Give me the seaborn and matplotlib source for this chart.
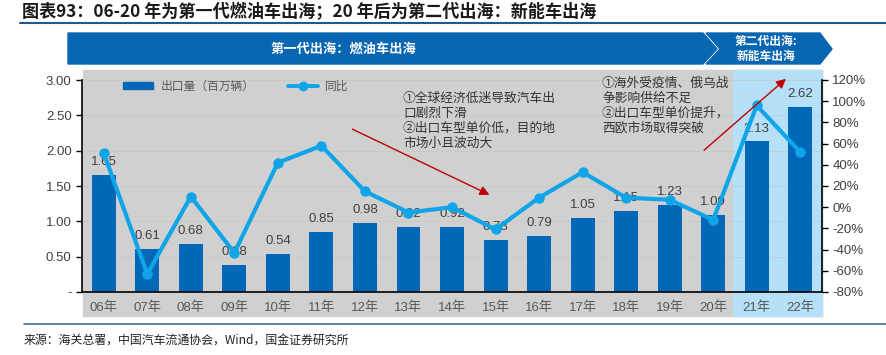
import numpy as np
import matplotlib.pyplot as plt
import seaborn as sns
from matplotlib.patches import Polygon, Rectangle, Patch
from matplotlib.lines import Line2D
from matplotlib.ticker import FuncFormatter, MultipleLocator

years = ['06年', '07年', '08年', '09年', '10年', '11年', '12年', '13年', '14年',
         '15年', '16年', '17年', '18年', '19年', '20年', '21年', '22年']
exports = [1.65, 0.61, 0.68, 0.38, 0.54, 0.85, 0.98, 0.92, 0.92,
           0.73, 0.79, 1.05, 1.15, 1.23, 1.09, 2.13, 2.62]
yoy = [51, -63, 10, -43, 42, 58, 15, -5, 0, -21, 9, 33, 9, 7, -12, 96, 52]

title = '图表93：06-20 年为第一代燃油车出海；20 年后为第二代出海：新能车出海'
banner1 = '第一代出海：燃油车出海'
banner2 = '第二代出海:\n新能车出海'
note1 = '①全球经济低迷导致汽车出\n口剧烈下滑\n②出口车型单价低，目的地\n市场小且波动大'
note2 = '①海外受疫情、俄乌战\n争影响供给不足\n②出口车型单价提升，\n西欧市场取得突破'
source = '来源：海关总署，中国汽车流通协会，Wind，国金证券研究所'
bar_name = '出口量（百万辆）'
line_name = '同比'

BAR = '#0068b7'
LINE = '#10a4e8'
GRAY_BG = '#d0d0d0'
BLUE_BG = '#b5e0f7'
BANNER = '#0866b3'
CJK = ['Noto Sans CJK SC', 'DejaVu Sans']
NUM = ['Liberation Sans', 'Noto Sans CJK SC']

sns.set_theme(style='white')
plt.rcParams['font.family'] = NUM

W, H = 886, 355
fig = plt.figure(figsize=(W / 100, H / 100), dpi=100)


def fx(px):
    return px / W


def fy(py):
    return 1 - py / H


# plot area backgrounds (extend below axis like the original)
fig.patches.append(Rectangle((fx(83), fy(316)), fx(822) - fx(83), fy(70) - fy(316),
                             transform=fig.transFigure, color=GRAY_BG, zorder=-2))
fig.patches.append(Rectangle((fx(733), fy(316)), fx(822) - fx(733), fy(70) - fy(316),
                             transform=fig.transFigure, color=BLUE_BG, zorder=-1))

ax = fig.add_axes([fx(82), fy(292), fx(822) - fx(82), fy(80) - fy(292)])
ax.set_facecolor('none')
sns.barplot(x=years, y=exports, ax=ax, color=BAR, width=0.55, saturation=1,
            linewidth=0, zorder=2)
ax.bar_label(ax.containers[0], fmt='%.2f', padding=5, fontsize=9.5, color='#404040')
ax.set_xlim(-0.5, len(years) - 0.5)
ax.set_ylim(0, 3)
ax.yaxis.set_major_locator(MultipleLocator(0.5))
ax.yaxis.set_major_formatter(FuncFormatter(lambda v, p: '-' if v == 0 else f'{v:.2f}'))
ax.yaxis.grid(True, color='#c4c4c4', lw=0.6, alpha=0.6)
ax.set_axisbelow(True)
ax.set_xlabel('')
ax.set_ylabel('')
for s in ['top', 'right']:
    ax.spines[s].set_visible(False)
for s in ['left', 'bottom']:
    ax.spines[s].set_color('black')
    ax.spines[s].set_linewidth(1.2)
ax.tick_params(axis='y', direction='out', length=4, width=1, color='black',
               labelsize=9.5, labelcolor='#404040', left=True)
ax.tick_params(axis='x', length=0, pad=7, labelsize=9.5, labelcolor='#595959')

ax2 = ax.twinx()
sns.lineplot(x=np.arange(len(years)), y=yoy, ax=ax2, color=LINE, lw=3,
             marker='o', markersize=7.5, markeredgewidth=0)
ax2.set_ylim(-80, 120)
ax2.yaxis.set_major_locator(MultipleLocator(20))
ax2.yaxis.set_major_formatter(FuncFormatter(lambda v, p: f'{v:.0f}%'))
for s in ['top', 'left', 'bottom']:
    ax2.spines[s].set_visible(False)
ax2.spines['right'].set_color('black')
ax2.spines['right'].set_linewidth(1.2)
ax2.tick_params(axis='y', direction='out', length=4, width=1, color='black',
                labelsize=9.5, labelcolor='#404040', right=True)
ax2.set_ylabel('')

handles = [Patch(color=BAR), Line2D([], [], color=LINE, lw=2.8, marker='o', markersize=6)]
ax2.legend(handles, [bar_name, line_name], ncol=2, loc='center left',
           bbox_to_anchor=(fx(118) - fx(82), (fy(86) - fy(292)) / (fy(80) - fy(292))),
           frameon=False, prop={'family': CJK, 'size': 8.5}, labelcolor='#595959',
           handlelength=2.6, handleheight=0.6, columnspacing=2.8, handletextpad=0.6)

# notes and arrows
fig.text(fx(403), fy(92), note1, family=CJK, fontsize=9.2, color='#333333',
         va='top', ha='left', linespacing=1.2)
fig.text(fx(602), fy(77), note2, family=CJK, fontsize=9.2, color='#333333',
         va='top', ha='left', linespacing=1.2)
arrow = dict(arrowstyle='-|>', color='#c00000', lw=1, mutation_scale=14)
ax2.annotate('', xy=(fx(492), fy(196)), xytext=(fx(350), fy(128)),
             xycoords='figure fraction', textcoords='figure fraction',
             arrowprops=arrow, annotation_clip=False)
ax2.annotate('', xy=(fx(788), fy(77)), xytext=(fx(702), fy(152)),
             xycoords='figure fraction', textcoords='figure fraction',
             arrowprops=arrow, annotation_clip=False)

# banners
fig.patches.append(Polygon([(fx(68), fy(33)), (fx(703), fy(33)), (fx(717), fy(49)),
                            (fx(703), fy(64)), (fx(68), fy(64))],
                           closed=True, transform=fig.transFigure, color=BANNER))
fig.patches.append(Polygon([(fx(706), fy(33)), (fx(820), fy(33)), (fx(832), fy(49)),
                            (fx(820), fy(64)), (fx(706), fy(64)), (fx(720), fy(49))],
                           closed=True, transform=fig.transFigure, color=BANNER))
fig.text(fx(343), fy(49), banner1, family=CJK, fontsize=9.5, color='white',
         weight='bold', ha='center', va='center')
fig.text(fx(766), fy(49), banner2, family=CJK, fontsize=8.5, color='white',
         weight='bold', ha='center', va='center', linespacing=1.15)

# title, rules and source
fig.text(fx(22), fy(12), title, family=CJK, fontsize=12.3, weight='bold',
         color='#1a1a1a', ha='left', va='center')
fig.add_artist(Line2D([fx(20), fx(886)], [fy(23), fy(23)], color='#1f5a8a', lw=1.5))
fig.add_artist(Line2D([fx(24), fx(886)], [fy(324), fy(324)], color='#3c6e99', lw=1.2))
fig.text(fx(24), fy(340), source, family=CJK, fontsize=8.6, color='#222222',
         ha='left', va='center')

fig.savefig('out.png', dpi=100)
